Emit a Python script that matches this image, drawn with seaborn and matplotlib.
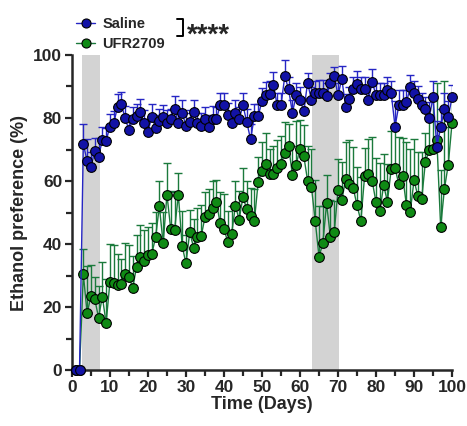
import numpy as np
import pandas as pd
import matplotlib
matplotlib.use("Agg")
import matplotlib.pyplot as plt
from matplotlib.lines import Line2D
import seaborn as sns

# ---- data ----
days = list(range(1, 101))

saline = [0, 0, 71.7, 66.4, 64.3, 69.6, 67.7, 73.0, 72.8, 77.3,
          78.3, 83.6, 84.4, 79.9, 76.2, 79.6, 80.6, 81.9, 78.5, 75.6,
          80.4, 76.9, 78.9, 80.2, 78.5, 79.8, 82.9, 78.3, 81.7, 77.5,
          78.6, 81.8, 78.5, 77.5, 79.6, 77.0, 79.8, 79.6, 84.0, 84.0,
          80.8, 78.3, 81.7, 79.6, 84.0, 78.7, 73.2, 80.6, 80.6, 85.5,
          87.4, 87.6, 90.6, 84.0, 84.0, 93.3, 89.1, 81.7, 87.2, 85.7,
          82.3, 91.2, 85.7, 87.8, 88.0, 88.0, 87.0, 91.2, 93.3, 87.2,
          92.4, 83.6, 85.9, 89.1, 90.8, 89.1, 89.1, 85.7, 91.4, 87.2,
          87.2, 87.2, 88.9, 87.8, 77.3, 84.0, 84.0, 85.0, 89.7, 87.8,
          86.1, 84.0, 82.8, 80.0, 86.6, 70.9, 77.0, 82.8, 80.4, 86.6]

saline_err = [0, 0, 6.5, 7, 5, 4, 6, 4, 4, 4,
              4, 4, 4, 4, 4, 4, 4, 4, 4, 4,
              4, 4, 4, 4, 4, 3, 4, 3, 4, 4,
              4, 4, 3, 4, 4, 4, 4, 4, 4, 4,
              4, 4, 4, 4, 4, 4, 5, 4, 4, 4,
              4, 4, 4, 4, 4, 5, 4, 4, 4, 4,
              4, 3, 4, 4, 4, 4, 4, 3, 3, 4,
              4, 4, 4, 4, 4, 4, 4, 4, 4, 4,
              4, 4, 4, 4, 8, 5, 5, 4, 4, 4,
              4, 4, 4, 5, 5, 8, 6, 5, 5, 4]

ufr = [0, 0, 30.5, 18.0, 23.5, 22.6, 16.7, 23.3, 15.0, 28.0,
       27.7, 26.9, 27.3, 30.5, 29.6, 26.2, 32.8, 36.0, 34.5, 36.4,
       36.8, 42.1, 52.0, 40.2, 55.7, 44.7, 44.4, 55.7, 39.4, 33.9,
       43.8, 38.9, 42.3, 42.5, 48.5, 49.5, 51.6, 53.3, 46.6, 44.9,
       40.6, 43.2, 52.1, 47.8, 55.0, 51.0, 48.9, 47.4, 59.7, 63.3,
       65.4, 62.2, 62.2, 64.1, 65.4, 68.8, 71.1, 62.0, 65.2, 70.3,
       67.9, 60.1, 58.2, 47.4, 36.0, 40.2, 52.9, 42.1, 43.8, 57.1,
       54.0, 60.5, 59.0, 57.8, 52.3, 47.4, 61.6, 62.2, 59.9, 53.3,
       50.6, 58.6, 53.5, 63.9, 64.1, 59.0, 61.6, 52.3, 50.2, 60.3,
       55.2, 54.2, 66.2, 69.8, 70.3, 73.0, 45.5, 57.6, 65.2, 78.5]

ufr_err = [0, 0, 8, 15, 10, 7, 10, 11, 14, 12,
           12, 10, 8, 10, 10, 10, 10, 10, 10, 9,
           10, 8, 8, 10, 10, 12, 12, 7, 11, 9,
           7, 9, 9, 10, 8, 8, 8.5, 7, 10, 11,
           10, 9, 8, 9, 9, 9, 9, 10, 8, 9,
           10, 8, 9, 9, 9, 10, 7, 9, 14, 9,
           10, 11, 12, 13, 16, 12, 9, 12, 10, 10,
           12, 12, 14, 13, 12, 14, 9, 11, 14, 14,
           15, 10, 12, 12, 12, 15, 12, 20, 20, 13,
           14, 15, 9, 10, 17, 18, 18, 34, 12, 8]

shaded_periods = [(2.6, 7.4), (63.2, 70.3)]

blue_marker = "#1212a6"
blue_line = "#2626c4"
green_marker = "#0f8a14"
green_line = "#1b7a3c"

sns.set_style("ticks")
plt.rcParams["font.family"] = ["Liberation Sans", "DejaVu Sans"]
plt.rcParams["font.weight"] = "bold"

fig = plt.figure(figsize=(4.67, 4.26), dpi=100)
ax = fig.add_axes([0.154, 0.131, 0.814, 0.740])

for start, end in shaded_periods:
    ax.axvspan(start, end, color="#d3d3d3", zorder=0, lw=0)

df_ufr = pd.DataFrame({"day": days, "pref": ufr})
df_sal = pd.DataFrame({"day": days, "pref": saline})

# green group first so the blue group sits on top
ax.errorbar(days, ufr, yerr=[np.zeros(len(ufr_err)), ufr_err], fmt="none",
            ecolor=green_line, elinewidth=1.0, capsize=3.2, capthick=1.0, zorder=2)
sns.lineplot(data=df_ufr, x="day", y="pref", ax=ax, color=green_line, lw=1.0,
             marker="o", markersize=7, markerfacecolor=green_marker,
             markeredgecolor="black", markeredgewidth=0.8, zorder=3,
             clip_on=False, legend=False)
ax.errorbar(days, saline, yerr=[np.zeros(len(saline_err)), saline_err], fmt="none",
            ecolor=blue_line, elinewidth=1.0, capsize=3.2, capthick=1.0, zorder=4)
sns.lineplot(data=df_sal, x="day", y="pref", ax=ax, color=blue_line, lw=1.0,
             marker="o", markersize=7, markerfacecolor=blue_marker,
             markeredgecolor="black", markeredgewidth=0.8, zorder=5,
             clip_on=False, legend=False)

ax.set_xlim(0, 100)
ax.set_ylim(0, 100)
ax.set_xticks(range(0, 101, 10))
ax.set_xticks(range(0, 101, 5), minor=True)
ax.set_yticks(range(0, 101, 20))
ax.set_yticks(range(0, 101, 10), minor=True)
ax.tick_params(axis="both", which="major", length=5, width=1.6, labelsize=12.5, pad=2)
ax.tick_params(axis="both", which="minor", length=4, width=1.6)
for lab in ax.get_xticklabels() + ax.get_yticklabels():
    lab.set_fontweight("bold")
for side in ["left", "bottom"]:
    ax.spines[side].set_linewidth(1.8)
sns.despine(ax=ax)

ax.set_xlabel("Time (Days)", fontsize=13, fontweight="bold", labelpad=1)
ax.set_ylabel("Ethanol preference (%)", fontsize=13, fontweight="bold", labelpad=4)

handles = [
    Line2D([], [], color=blue_line, lw=1.0, marker="o", markersize=6.5,
           markerfacecolor=blue_marker, markeredgecolor="black", markeredgewidth=0.8),
    Line2D([], [], color=green_line, lw=1.0, marker="o", markersize=6.5,
           markerfacecolor=green_marker, markeredgecolor="black", markeredgewidth=0.8),
]
ax.legend(handles, ["Saline", "UFR2709"], loc="upper left",
          bbox_to_anchor=(0.135, 0.99), bbox_transform=fig.transFigure,
          frameon=False, handlelength=1.3, handletextpad=0.5, labelspacing=0.4,
          prop={"weight": "bold", "size": 10.5})

# significance bracket
bx = 0.392
fig.add_artist(Line2D([bx - 0.013, bx, bx, bx - 0.013],
                      [0.955, 0.955, 0.916, 0.916],
                      transform=fig.transFigure, color="black", lw=1.4))
fig.text(bx + 0.008, 0.916, "****", fontsize=20, fontweight="bold",
         va="center", ha="left")

fig.savefig("out.png", dpi=100)
